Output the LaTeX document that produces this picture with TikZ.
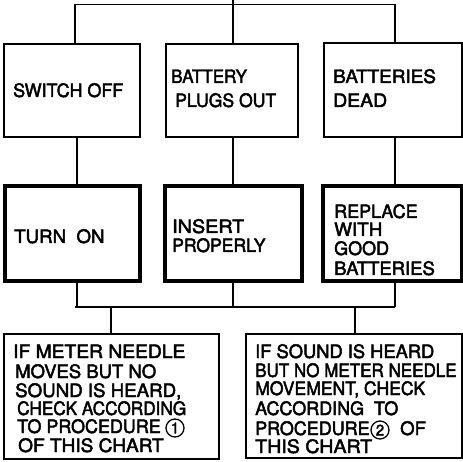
\documentclass[tikz,border=0pt]{standalone}
\usepackage{fontspec}
\usepackage{graphicx}
\setmainfont{TeX Gyre Heros}[FakeBold=2.5]
\usetikzlibrary{fit}
\newcommand\sx[2]{\scalebox{#1}[1]{#2}}
\begin{document}
\begin{tikzpicture}[x=1pt,y=-1pt,
  conn/.style={line width=1.7pt},
  boxA/.style={draw,line width=2.3pt,inner sep=0pt},
  boxB/.style={draw,line width=3.6pt,inner sep=0pt},
  boxC/.style={draw,line width=2.3pt,inner sep=0pt},
  txt/.style={anchor=base west,inner sep=0pt,font=\fontsize{18.5}{20}\selectfont},
  circnum/.style={draw,circle,line width=1.3pt,minimum size=18pt,inner sep=0pt,font=\fontsize{15}{16}\selectfont}]
\useasboundingbox (0,0) rectangle (463,462);
% boxes
\node[boxA,fit={(4,44) (140,137)}] (b11) {};
\node[boxA,fit={(166,44) (298,137)}] (b12) {};
\node[boxA,fit={(324,43) (462,137)}] (b13) {};
\node[boxB,fit={(5,186) (140,281)}] (b21) {};
\node[boxB,fit={(165,186) (302,281)}] (b22) {};
\node[boxB,fit={(323,186) (462,281)}] (b23) {};
\node[boxC,fit={(4,334) (219,459)}] (b31) {};
\node[boxC,fit={(246,334) (462,458)}] (b32) {};
% connectors
\coordinate (top) at (233,0);
\coordinate (tl) at (75,4.5);
\coordinate (tr) at (395,4.5);
\coordinate (xa) at (77,0);
\coordinate (xb) at (233,0);
\coordinate (xc) at (395,0);
\coordinate (bl) at (75,307);
\coordinate (br) at (395,307);
\coordinate (xd) at (111,0);
\coordinate (xe) at (355,0);
\draw[conn] (top) -- (top |- b12.north);
\draw[conn] (tl) -- (tr);
\draw[conn] (tl) -- (tl |- b11.north);
\draw[conn] (tr) -- (tr |- b13.north);
\draw[conn] (xa |- b11.south) -- (xa |- b21.north);
\draw[conn] (xb |- b12.south) -- (xb |- b22.north);
\draw[conn] (xc |- b13.south) -- (xc |- b23.north);
\draw[conn] (xa |- b21.south) -- (xa |- bl);
\draw[conn] (xb |- b22.south) -- (xb |- bl);
\draw[conn] (xc |- b23.south) -- (xc |- br);
\draw[conn] (bl) -- (br);
\draw[conn] (xd |- bl) -- (xd |- b31.north);
\draw[conn] (xe |- br) -- (xe |- b32.north);
% row 1 texts
\node[txt] (t1) at (13,97) {\sx{0.97}{SWITCH OFF}};
\node[txt] (t2) at (171,83) {\sx{0.92}{BATTERY}};
\node[txt] (t3) at (175,107) {\sx{0.95}{PLUGS OUT}};
\node[txt] (t4) at (333,83) {\sx{1.02}{BATTERIES}};
\node[txt] (t5) at (333,107) {\sx{1.05}{DEAD}};
% row 2 texts
\node[txt] (t6) at (14,243) {\sx{1.01}{TURN\ \ ON}};
\node[txt] (t7) at (172,233) {\sx{1.07}{INSERT}};
\node[txt] (t8) at (172,252) {\sx{0.95}{PROPERLY}};
\node[txt] (t9) at (334,218) {\sx{0.97}{REPLACE}};
\node[txt] (t10) at (334,236) {\sx{1.02}{WITH}};
\node[txt] (t11) at (334,255) {\sx{0.97}{GOOD}};
\node[txt] (t12) at (334,275) {\sx{1.0}{BATTERIES}};
% row 3 left
\node[txt] (u1) at (13,358) {\sx{1.04}{IF METER NEEDLE}};
\node[txt] (u2) at (15,378) {\sx{1.0}{MOVES BUT NO}};
\node[txt] (u3) at (15,397) {\sx{1.01}{SOUND IS HEARD,}};
\node[txt] (u4) at (17,415) {\sx{0.93}{CHECK ACCORDING}};
\node[txt] (u5) at (17,433) {\sx{0.97}{TO PROCEDURE}};
\node[circnum] (c1) at (175,428) {1};
\node[txt] (u6) at (18,452) {\sx{1.03}{OF THIS CHART}};
% row 3 right
\node[txt] (v1) at (255,358) {\sx{0.99}{IF SOUND IS HEARD}};
\node[txt] (v2) at (255,377) {\sx{0.92}{BUT NO METER NEEDLE}};
\node[txt] (v3) at (255,395) {\sx{0.95}{MOVEMENT, CHECK}};
\node[txt] (v4) at (255,415) {\sx{0.97}{ACCORDING\ \ TO}};
\node[txt] (v5) at (255,435) {\sx{0.97}{PROCEDURE}};
\node[circnum] (c2) at (380,430) {2};
\node[txt] (v6) at (400,435) {OF};
\node[txt] (v7) at (255,453) {\sx{1.06}{THIS CHART}};
\end{tikzpicture}
\end{document}
